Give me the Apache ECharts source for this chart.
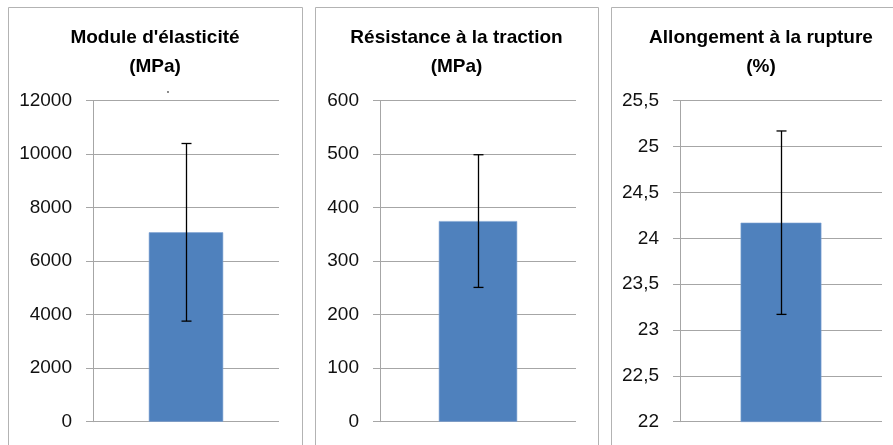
<!DOCTYPE html>
<html>
<head>
<meta charset="utf-8">
<script src="https://cdn.jsdelivr.net/npm/echarts@6/dist/echarts.min.js"></script>
<style>
html,body{margin:0;padding:0;background:#fff;}
#chart{width:893px;height:445px;}
</style>
</head>
<body>
<div id="chart"></div>
<script>
// ---- data ----
const titles = ["Module d'élasticité\n(MPa)", "Résistance à la traction\n(MPa)", "Allongement à la rupture\n(%)"];
const categories = ["Échantillon"];
const means = [7080, 375, 24.17];
const errors = [3320, 124, 1.0];
const yMin = [0, 0, 22];
const yMax = [12000, 600, 25.5];
const yStep = [2000, 100, 0.5];

// ---- layout (styles/positions) ----
const panels = [
  {x: 8, w: 294, gl: 93, gr: 279},
  {x: 315, w: 283, gl: 380, gr: 576},
  {x: 611, w: 300, gl: 680, gr: 882}
];
const W = 893, H = 445;
const gridTop = 100.7, gridBottom = H - 421.7;
const gridColor = '#a6a6a6';
const font = '"Liberation Sans", Arial, sans-serif';

const chart = echarts.init(document.getElementById('chart'), null, {renderer: 'canvas'});

const option = {
  animation: false,
  backgroundColor: '#fff',
  title: titles.map((t, i) => ({
    text: t,
    left: panels[i].x + panels[i].w / 2,
    top: 23,
    textAlign: 'center',
    padding: 0,
    textStyle: {fontFamily: font, fontSize: 19, fontWeight: 'bold', color: '#000', lineHeight: 29}
  })),
  graphic: panels.map(p => ({
    type: 'rect', silent: true, z: -1,
    shape: {x: p.x + 0.5, y: 7.5, width: p.w, height: 460},
    style: {fill: 'none', stroke: '#b3b3b3', lineWidth: 1}
  })).concat([{
    type: 'circle', silent: true, shape: {cx: 168, cy: 92, r: 0.9}, style: {fill: '#555'}
  }]),
  grid: panels.map(p => ({left: p.gl, right: W - p.gr, top: gridTop, bottom: gridBottom, containLabel: false})),
  xAxis: panels.map((p, i) => ({
    type: 'category', gridIndex: i, data: categories,
    axisLine: {show: false}, axisTick: {show: false}, axisLabel: {show: false}
  })),
  yAxis: panels.map((p, i) => ({
    type: 'value', gridIndex: i, min: yMin[i], max: yMax[i], interval: yStep[i],
    axisLine: {show: true, lineStyle: {color: gridColor, width: 1}},
    axisTick: {show: true, length: 7, lineStyle: {color: gridColor}},
    splitLine: {show: true, lineStyle: {color: gridColor, width: 1}},
    axisLabel: {
      margin: 21, fontFamily: font, fontSize: 19, color: '#111',
      formatter: v => String(Math.round(v * 100) / 100).replace('.', ',')
    }
  })),
  series: [].concat(
    means.map((m, i) => ({
      type: 'bar', xAxisIndex: i, yAxisIndex: i, data: [m],
      barWidth: '40%', clip: true,
      itemStyle: {color: '#4f81bd', borderColor: '#7fa3d4', borderWidth: 0.6}
    })),
    means.map((m, i) => ({
      type: 'custom', xAxisIndex: i, yAxisIndex: i, z: 10,
      data: [[0, m - errors[i], m + errors[i]]],
      renderItem: (params, api) => {
        const lo = api.coord([api.value(0), api.value(1)]);
        const hi = api.coord([api.value(0), api.value(2)]);
        const x = Math.round(lo[0]) + 0.5;
        const c = 5;
        const st = {stroke: '#000', lineWidth: 1.3};
        return {type: 'group', children: [
          {type: 'line', shape: {x1: x, y1: hi[1], x2: x, y2: lo[1]}, style: st},
          {type: 'line', shape: {x1: x - c, y1: hi[1], x2: x + c, y2: hi[1]}, style: st},
          {type: 'line', shape: {x1: x - c, y1: lo[1], x2: x + c, y2: lo[1]}, style: st}
        ]};
      }
    }))
  )
};
chart.setOption(option);
</script>
</body>
</html>
